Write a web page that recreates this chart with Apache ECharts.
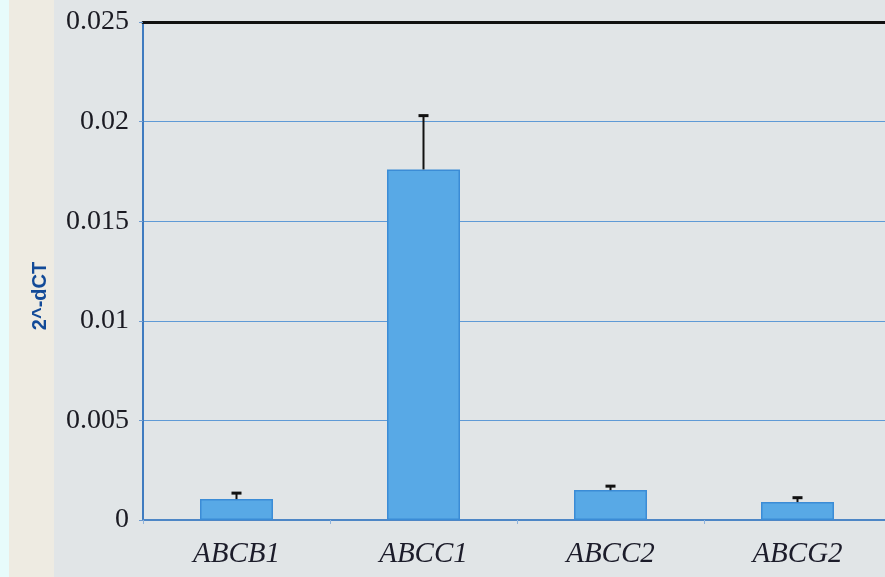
<!DOCTYPE html>
<html>
<head>
<meta charset="utf-8">
<script src="https://cdn.jsdelivr.net/npm/echarts@6/dist/echarts.min.js"></script>
<style>
  html, body { margin: 0; padding: 0; background: #e1e5e7; overflow: hidden; }
  #chart { width: 891px; height: 577px; }
</style>
</head>
<body>
<div id="chart"></div>
<script>
// Relative expression (2^-dCT) of ABC transporter genes
const genes = ['ABCB1', 'ABCC1', 'ABCC2', 'ABCG2'];
const meanExpr = [0.00105, 0.0176, 0.0015, 0.0009];
const errUpper = [0.00135, 0.0203, 0.0017, 0.00112];
const yTicks = [0, 0.005, 0.01, 0.015, 0.02, 0.025];

const chart = echarts.init(document.getElementById('chart'));

const serif = '"Liberation Serif", "DejaVu Serif", serif';

chart.setOption({
  backgroundColor: '#e1e5e7',
  animation: false,
  graphic: [
    { type: 'rect', left: 0, top: 0, shape: { width: 9, height: 577 }, style: { fill: '#e7fbfb' }, z: -10 },
    { type: 'rect', left: 9, top: 0, shape: { width: 45, height: 577 }, style: { fill: '#eeebe2' }, z: -10 },
    {
      type: 'text',
      x: 40, y: 296,
      rotation: Math.PI / 2,
      style: {
        text: '2^-dCT',
        fill: '#124a98',
        font: 'bold 20px "Liberation Sans", Arial, sans-serif',
        textAlign: 'center',
        textVerticalAlign: 'middle'
      }
    }
  ],
  grid: { left: 143, top: 22, width: 748, height: 498, containLabel: false },
  xAxis: [
    {
      type: 'category',
      data: genes,
      axisLine: { lineStyle: { color: '#4d86c6', width: 2 } },
      axisTick: { show: true, length: 4, lineStyle: { color: '#8fb3dc' } },
      axisLabel: {
        fontFamily: serif,
        fontStyle: 'italic',
        fontSize: 29,
        color: '#1c1c2a',
        margin: 20
      }
    },
    {
      // frame line along the top of the plot
      type: 'category',
      position: 'top',
      data: genes,
      axisLine: { show: true, lineStyle: { color: '#111', width: 3 } },
      axisTick: { show: false },
      axisLabel: { show: false }
    }
  ],
  yAxis: {
    type: 'value',
    min: yTicks[0],
    max: yTicks[yTicks.length - 1],
    interval: yTicks[1] - yTicks[0],
    axisLine: { show: true, lineStyle: { color: '#3f7bc0', width: 2 } },
    axisTick: { show: true, length: 4, lineStyle: { color: '#6d9bd0' } },
    splitLine: { lineStyle: { color: '#5f9ad6', width: 1 } },
    axisLabel: {
      fontFamily: serif,
      fontSize: 28,
      color: '#1a1a22',
      margin: 14,
      formatter: v => String(v)
    }
  },
  series: [
    {
      type: 'bar',
      data: meanExpr,
      barWidth: 73,
      itemStyle: { color: '#58a9e6', borderColor: '#3b8cd6', borderWidth: 1.5 }
    },
    {
      type: 'custom',
      data: genes.map((g, i) => [i, meanExpr[i], errUpper[i]]),
      z: 5,
      renderItem: (params, api) => {
        const base = api.coord([api.value(0), api.value(1)]);
        const top = api.coord([api.value(0), api.value(2)]);
        const cap = 5;
        return {
          type: 'group',
          children: [
            { type: 'line', shape: { x1: base[0], y1: base[1], x2: top[0], y2: top[1] }, style: { stroke: '#111', lineWidth: 2 } },
            { type: 'line', shape: { x1: top[0] - cap, y1: top[1], x2: top[0] + cap, y2: top[1] }, style: { stroke: '#111', lineWidth: 3 } }
          ]
        };
      }
    }
  ]
});
</script>
</body>
</html>
